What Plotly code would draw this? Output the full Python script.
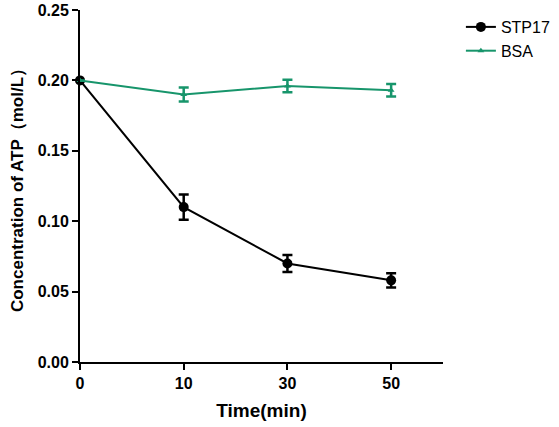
import plotly.graph_objects as go

time_labels = ["0", "10", "30", "50"]
x_pos = [0, 1, 2, 3]
stp17 = [0.200, 0.110, 0.070, 0.058]
stp17_err = [0.0, 0.009, 0.006, 0.005]
bsa = [0.200, 0.190, 0.196, 0.193]
bsa_err = [0.0, 0.005, 0.0045, 0.0045]

green = "#17956b"
FONT = "Liberation Sans, Arial, sans-serif"

fig = go.Figure()
fig.add_trace(go.Scatter(
    x=x_pos, y=stp17, name="STP17", mode="lines+markers",
    line=dict(color="black", width=2),
    marker=dict(symbol="circle", size=10, color="black"),
    error_y=dict(type="data", array=stp17_err, visible=True, color="black", thickness=2.5, width=5),
    cliponaxis=False,
))
fig.add_trace(go.Scatter(
    x=x_pos, y=bsa, name="BSA", mode="lines+markers",
    line=dict(color=green, width=2),
    marker=dict(symbol="triangle-up", size=6, color=green),
    error_y=dict(type="data", array=bsa_err, visible=True, color=green, thickness=2.5, width=5),
    cliponaxis=False,
))

fig.update_layout(
    width=559, height=427,
    margin=dict(l=80, r=116, t=10, b=65),
    paper_bgcolor="white", plot_bgcolor="white",
    font=dict(family=FONT, color="black"),
    showlegend=True,
    legend=dict(xref="container", x=0.8245, y=1.0, xanchor="left", yanchor="top",
                font=dict(size=16, color="black"), bgcolor="rgba(0,0,0,0)",
                itemwidth=30, tracegroupgap=0),
)
fig.update_xaxes(
    range=[0, 3.5], tickmode="array", tickvals=x_pos, ticktext=time_labels,
    showline=True, linecolor="black", linewidth=2, showgrid=False, zeroline=False,
    ticks="outside", ticklen=6, tickwidth=2, tickcolor="black", automargin=False,
    tickfont=dict(size=16, family=FONT, color="black", weight="bold"),
    title=dict(text="<b>Time(min)</b>", font=dict(size=19), standoff=12),
)
fig.update_yaxes(
    range=[0, 0.25], tickmode="array", tickvals=[0, 0.05, 0.10, 0.15, 0.20, 0.25],
    ticktext=["0.00", "0.05", "0.10", "0.15", "0.20", "0.25"],
    showline=True, linecolor="black", linewidth=2, showgrid=False, zeroline=False,
    ticks="outside", ticklen=6, tickwidth=2, tickcolor="black", automargin=False,
    tickfont=dict(size=16, family=FONT, color="black", weight="bold"),
    title=dict(text="<b>Concentration of ATP（mol/L）</b>", font=dict(size=17), standoff=10),
)

fig.write_html("out.html", config={"displayModeBar": False},
               post_script="document.body.style.margin='0';")
